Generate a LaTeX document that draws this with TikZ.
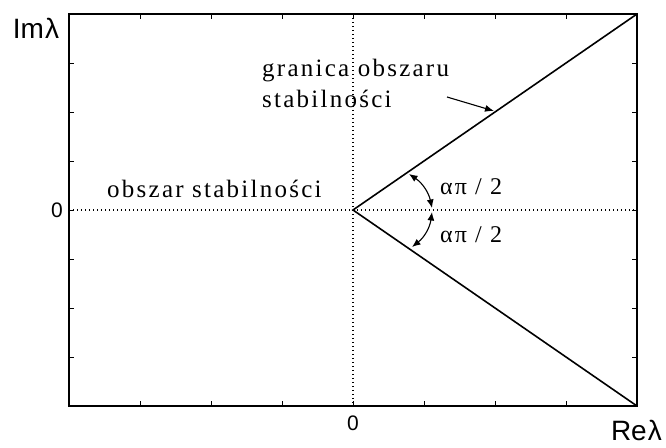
\documentclass[tikz,border=0pt]{standalone}
\usepackage{fontspec}
\setmainfont{Liberation Serif}
\newfontfamily\axfont{Liberation Sans}
\newfontfamily\spfont[LetterSpace=9]{Liberation Serif}
\usetikzlibrary{arrows.meta}
\begin{document}
\begin{tikzpicture}[x=1pt,y=1pt,
  frame/.style={line width=1.3pt},
  tickln/.style={line width=0.9pt},
  bound/.style={line width=1.6pt},
  axdot/.style={line width=1.1pt,dash pattern=on 1.1pt off 2.9pt},
  axlab/.style={font=\axfont\fontsize{21}{24}\selectfont,inner sep=0pt},
  axname/.style={font=\axfont\fontsize{28}{32}\selectfont,inner sep=0pt},
  txt/.style={font=\spfont\fontsize{25}{28}\selectfont,inner sep=0pt,anchor=base west},
  ang/.style={font=\spfont\fontsize{24}{28}\selectfont,inner sep=0pt,anchor=base west},
  tip/.style={-{Latex[length=9pt,width=7pt]},line width=1.1pt},
  dtip/.style={{Latex[length=8.5pt,width=7pt]}-{Latex[length=8.5pt,width=7pt]},line width=1.1pt}]
\useasboundingbox (0,0) rectangle (666,447);
% frame corners and origin
\coordinate (bl) at (69,41);
\coordinate (tr) at (637,433);
\coordinate (tl) at (69,433);
\coordinate (br) at (637,41);
\coordinate (o) at (353,237);
\coordinate (ml) at (69,237);
\coordinate (mr) at (637,237);
\coordinate (mt) at (353,433);
\coordinate (mb) at (353,41);
% dotted axes
\draw[axdot] (ml) -- (mr);
\draw[axdot] (mt) -- (mb);
% ticks
\foreach \i in {1,...,7}{
  \draw[tickln] (69+71*\i,41) -- ++(0,5);
  \draw[tickln] (69+71*\i,433) -- ++(0,-5);
  \draw[tickln] (69,41+49*\i) -- ++(5,0);
  \draw[tickln] (637,41+49*\i) -- ++(-5,0);
}
\draw[frame] (bl) rectangle (tr);
% stability boundary
\draw[bound,line join=miter] (tr) -- (o) -- (br);
% labels
\node[axname] (im) at (36,419) {Im\kern1pt λ};
\node[axname,anchor=base east] (re) at (662,7) {Re\kern1pt λ};
\node[axlab,anchor=east] (zl) at (63,237) {0};
\node[axlab] (zb) at (353,24) {0};
\node[txt] (g1) at (262,370) {granica obszaru};
\node[txt] (g2) at (262,339) {stabilności};
\node[txt] (os) at (107,249) {obszar stabilności};
\node[ang] (a1) at (440,252) {απ / 2};
\node[ang] (a2) at (440,204) {απ / 2};
% arrows
\coordinate (ast) at (447,350);
\coordinate (aen) at (494,336);
\draw[tip] (ast) -- (aen);
\coordinate (u1) at (432,239);
\coordinate (u2) at (409,273);
\coordinate (l1) at (432,235);
\coordinate (l2) at (412,200);
\draw[dtip] (u1) to[bend right=22] (u2);
\draw[dtip] (l1) to[bend left=22] (l2);
\end{tikzpicture}
\end{document}
